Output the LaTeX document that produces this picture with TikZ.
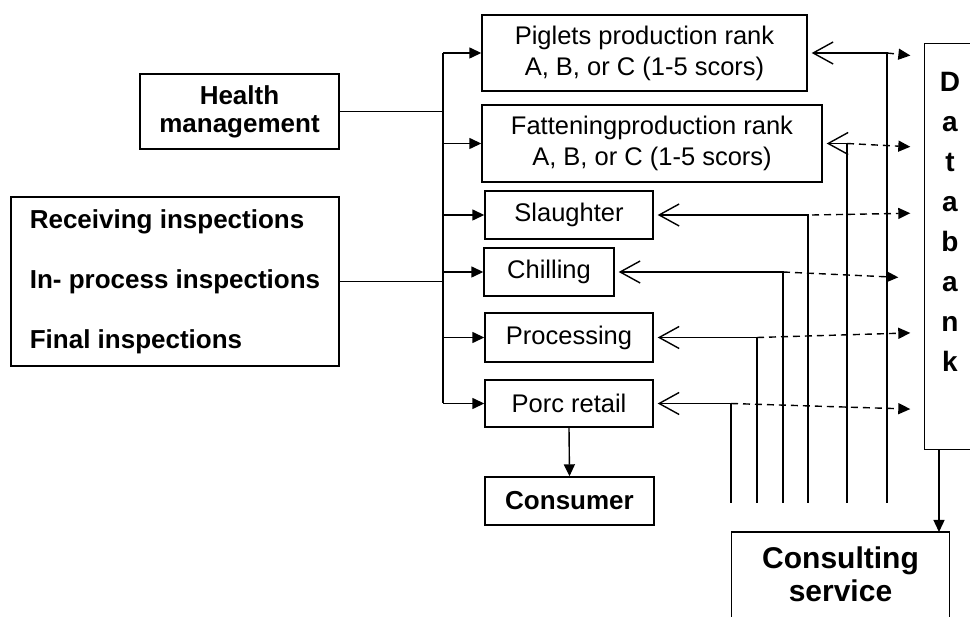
\documentclass[tikz,border=0pt]{standalone}
\usepackage{fontspec}
\setmainfont{Liberation Sans}
\usetikzlibrary{arrows.meta,calc}
\begin{document}
\begin{tikzpicture}[x=1pt,y=-1pt, line width=1.4pt,
  box/.style={draw, inner sep=0pt, align=center, font=\fontsize{25.5}{31}\selectfont},
  bbox/.style={draw, inner sep=0pt, align=center, font=\bfseries\fontsize{26}{28}\selectfont},
  tri/.style={-{Triangle[length=12pt,width=11pt]}},
  fb/.style={-{Straight Barb[length=20pt,width=22pt]}, shorten >=4pt},
  dasharr/.style={dash pattern=on 7pt off 5pt, -{Triangle[length=12pt,width=11pt]}, shorten >=14pt}
]
\useasboundingbox (0,0) rectangle (970,617);

% left boxes
\node[bbox, minimum width=199pt, minimum height=75pt] (hm) at (239.5,111.5) {Health\\management};
\node[draw, inner sep=0pt, align=left, minimum width=328pt,
      minimum height=169pt, font=\bfseries\fontsize{26}{60}\selectfont] (insp) at (175,281.5)
      {Receiving inspections\\In- process inspections\\Final inspections};

% chain boxes
\node[box, minimum width=325pt, minimum height=76pt] (pig) at (644.5,53) {Piglets production rank\\A, B, or C (1-5 scors)};
\node[box, minimum width=340pt, minimum height=77pt] (fat) at (652,143.5) {Fatteningproduction rank\\A, B, or C (1-5 scors)};
\node[box, minimum width=168pt, minimum height=48pt] (sla) at (569,215) {Slaughter};
\node[box, minimum width=130pt, minimum height=48pt] (chi) at (549,272) {Chilling};
\node[box, minimum width=168pt, minimum height=49pt] (pro) at (569,337.5) {Processing};
\node[box, minimum width=168pt, minimum height=47pt] (por) at (569,403.5) {Porc retail};
\node[bbox, minimum width=169pt, minimum height=48pt] (con) at (569.5,501) {Consumer};

% databank (open on the right)
\node[minimum width=45pt, minimum height=405pt, inner sep=0pt] (db) at (947.5,246.5) {};
\draw (db.north east) -- (db.north west) -- (db.south west) -- (db.south east);
\node[align=center, inner sep=0pt, font=\bfseries\fontsize{28}{40}\selectfont] (dbt) at (950,222) {D\\a\\t\\a\\b\\a\\n\\k};

% consulting service (open at the bottom)
\coordinate (pagebot) at (0,620);
\node[anchor=north, minimum width=217pt, inner xsep=0pt, inner ysep=14.5pt, align=center,
      font=\bfseries\fontsize{30}{33}\selectfont] (cs) at (840.5,532) {Consulting\\service};
\draw (cs.north west |- pagebot) -- (cs.north west) -- (cs.north east) -- (cs.north east |- pagebot);

% bus
\coordinate (bx) at (443,0);
\draw (bx |- pig.west) -- (bx |- por.west);
\draw (hm.east) -- (bx |- hm.east);
\draw (insp.east) -- (bx |- insp.east);
\foreach \b in {pig,fat,sla,chi,pro,por}{
  \draw[tri] (bx |- \b.west) -- (\b.west);
}
\draw[tri] (por.south) -- (con.north);

% databank -> consulting
\coordinate (dbx) at (939,0);
\draw[tri] (dbx |- db.south) -- (dbx |- cs.north);

% feedback lines
\coordinate (fbot) at (0,503);
\coordinate (x1) at (887,0);
\coordinate (x2) at (847,0);
\coordinate (x3) at (808,0);
\coordinate (x4) at (783,0);
\coordinate (x5) at (757,0);
\coordinate (x6) at (731,0);
\draw[fb] (x1 |- fbot) |- (pig.east);
\draw[fb] (x2 |- fbot) |- (fat.east);
\draw[fb] (x3 |- fbot) |- (sla.east);
\draw[fb] (x4 |- fbot) |- (chi.east);
\draw[fb] (x5 |- fbot) |- (pro.east);
\draw[fb] (x6 |- fbot) |- (por.east);

% dashed arrows to databank
\draw[dasharr] (x1 |- pig.east) -- ([yshift=-4pt]x1 |- pig.east -| db.west);
\draw[dasharr] (x2 |- fat.east) -- ([yshift=-4pt]x2 |- fat.east -| db.west);
\draw[dasharr] ([xshift=4pt]x3 |- sla.east) -- ([yshift=2pt]x3 |- sla.east -| db.west);
\draw[dasharr] (x4 |- chi.east) -- ([yshift=-6pt,xshift=-12pt]x4 |- chi.east -| db.west);
\draw[dasharr] (x5 |- pro.east) -- ([yshift=5pt]x5 |- pro.east -| db.west);
\draw[dasharr] (x6 |- por.east) -- ([yshift=-6pt]x6 |- por.east -| db.west);
\end{tikzpicture}
\end{document}
